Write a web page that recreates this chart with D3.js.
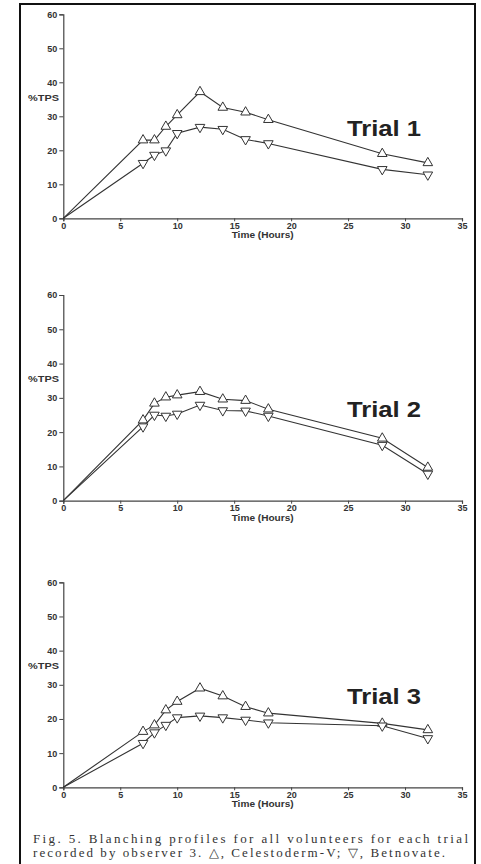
<!DOCTYPE html>
<meta charset="utf-8">
<head>
  <title>Blanching profiles</title>
  <script src="https://d3js.org/d3.v7.min.js"></script>
  <style>
    body { margin: 0; background: #fff; }
    text { font-family: "Liberation Sans", Arial, sans-serif; }
  </style>
</head>
<body>
<div id="display"></div>
<script>

// data
var trialNames = ["Trial 1", "Trial 2", "Trial 3"];
var timeHours = [0, 7, 8, 9, 10, 12, 14, 16, 18, 28, 32];

// Celestoderm-V (triangle up)
var celestoderm1 = [0, 23, 23, 27, 30.4, 37.2, 32.6, 31.2, 29, 19, 16.3];
var celestoderm2 = [0, 23.5, 28.4, 30.2, 30.8, 31.8, 29.6, 29.2, 26.7, 18.2, 9.7];
var celestoderm3 = [0, 16.3, 18.2, 22.6, 25.1, 29, 26.7, 23.6, 21.7, 18.7, 16.8];

// Betnovate (triangle down)
var betnovate1 = [0, 16.2, 18.6, 19.9, 25, 26.8, 26.2, 23.2, 22, 14.4, 12.8];
var betnovate2 = [0, 21.6, 25, 24.7, 25.3, 27.9, 26.3, 26.2, 24.7, 16.2, 7.8];
var betnovate3 = [0, 12.9, 16, 18.2, 20.4, 20.9, 20.4, 19.7, 18.9, 18, 14.3];

var xTicks = [0, 5, 10, 15, 20, 25, 30, 35];
var yTicks = [0, 10, 20, 30, 40, 50, 60];
var yLabel = "%TPS";
var xLabel = "Time (Hours)";
var caption = [
  "Fig. 5. Blanching profiles for all volunteers for each trial",
  "recorded by observer 3. \u25B3, Celestoderm-V; \u25BD, Betnovate."
];

var upSeries = [celestoderm1, celestoderm2, celestoderm3];
var downSeries = [betnovate1, betnovate2, betnovate3];

var width = 481, height = 864;
var panelTops = [14.3, 295, 582.3];
var panelBottoms = [218.3, 500.7, 787.3];

var svg = d3.select("#display")
  .append("svg")
    .attr("width", width)
    .attr("height", height);

// page frame
svg.append("rect")
  .attr("x", 20).attr("y", 4)
  .attr("width", 455).attr("height", 870)
  .attr("fill", "none")
  .attr("stroke", "#111")
  .attr("stroke-width", 2);

var x = d3.scaleLinear().domain([0, 35]).range([63.3, 462]);
var triUp = d3.symbol().type(d3.symbolTriangle).size(40);

trialNames.forEach(function(name, i) {
  var y = d3.scaleLinear().domain([0, 60]).range([panelBottoms[i], panelTops[i]]);
  var g = svg.append("g");

  var xAxis = g.append("g")
    .attr("transform", "translate(0," + panelBottoms[i] + ")")
    .call(d3.axisBottom(x).tickValues(xTicks).tickSize(3).tickPadding(1));
  var yAxis = g.append("g")
    .attr("transform", "translate(63.3,0)")
    .call(d3.axisLeft(y).tickValues(yTicks).tickSize(4).tickPadding(2));

  [xAxis, yAxis].forEach(function(a) {
    a.select(".domain").attr("stroke", "#444").attr("stroke-width", 1.2);
    a.selectAll(".tick line").attr("stroke", "#444");
    a.selectAll(".tick text")
      .attr("fill", "#333")
      .style("font-size", "9px")
      .style("font-weight", "bold")
      .style("font-family", "'Liberation Sans', Arial, sans-serif");
  });

  g.append("text")
    .attr("x", 28).attr("y", y(34.5))
    .attr("fill", "#333")
    .style("font-size", "8.5px").style("font-weight", "bold")
    .attr("textLength", 31).attr("lengthAdjust", "spacingAndGlyphs")
    .text(yLabel);

  g.append("text")
    .attr("x", x(17.5)).attr("y", panelBottoms[i] + 20)
    .attr("text-anchor", "middle")
    .attr("fill", "#333")
    .style("font-size", "8.5px").style("font-weight", "bold")
    .attr("textLength", 62).attr("lengthAdjust", "spacingAndGlyphs")
    .text(xLabel);

  g.append("text")
    .attr("x", 347).attr("y", y(24.3))
    .attr("fill", "#222")
    .style("font-size", "22px").style("font-weight", "bold")
    .attr("textLength", 74).attr("lengthAdjust", "spacingAndGlyphs")
    .text(name);

  var line = d3.line()
    .x(function(d, j) { return x(timeHours[j]); })
    .y(function(d) { return y(d); });

  [upSeries[i], downSeries[i]].forEach(function(vals, k) {
    g.append("path")
      .datum(vals)
      .attr("fill", "none")
      .attr("stroke", "#333")
      .attr("stroke-width", 1.1)
      .attr("d", line);

    g.selectAll(".m" + k)
      .data(vals.slice(1))
      .enter()
      .append("path")
        .attr("class", "m" + k)
        .attr("transform", function(d, j) {
          return "translate(" + x(timeHours[j + 1]) + "," + y(d) + ")" + (k == 1 ? " rotate(180)" : "");
        })
        .attr("d", triUp)
        .attr("fill", "#fff")
        .attr("stroke", "#333")
        .attr("stroke-width", 1);
  });
});

// caption
caption.forEach(function(t, i) {
  svg.append("text")
    .attr("x", 33).attr("y", 843 + i * 14)
    .attr("fill", "#333")
    .style("font-family", "'Liberation Serif', 'Times New Roman', serif")
    .style("font-size", "13px")
    .attr("textLength", i == 0 ? 435 : 412)
    .attr("lengthAdjust", "spacing")
    .text(t);
});

</script>
</body>
